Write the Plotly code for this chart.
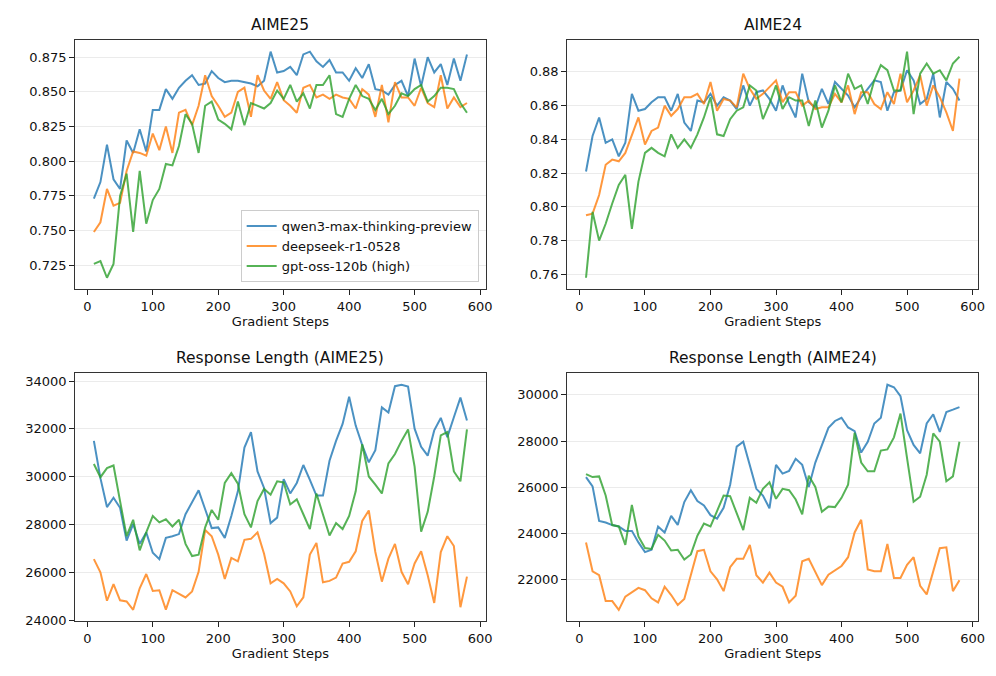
import plotly.graph_objects as go
from plotly.subplots import make_subplots

steps = [10, 20, 30, 40, 50, 60, 70, 80, 90, 100, 110, 120, 130, 140, 150, 160, 170, 180, 190, 200,
         210, 220, 230, 240, 250, 260, 270, 280, 290, 300, 310, 320, 330, 340, 350, 360, 370, 380, 390, 400,
         410, 420, 430, 440, 450, 460, 470, 480, 490, 500, 510, 520, 530, 540, 550, 560, 570, 580]

series_names = ["qwen3-max-thinking-preview", "deepseek-r1-0528", "gpt-oss-120b (high)"]
colors = ["#1f77b4", "#ff7f0e", "#2ca02c"]

aime25_qwen = [0.773, 0.785, 0.812, 0.787, 0.780, 0.815, 0.806, 0.823, 0.807, 0.837,
               0.837, 0.852, 0.845, 0.853, 0.858, 0.862, 0.855, 0.856, 0.865, 0.860,
               0.857, 0.858, 0.858, 0.857, 0.856, 0.854, 0.858, 0.879,
               0.864, 0.865, 0.868, 0.862, 0.877, 0.879, 0.872, 0.868, 0.873, 0.864,
               0.864, 0.858, 0.867, 0.860, 0.870, 0.852, 0.851, 0.848, 0.855, 0.858,
               0.847, 0.874, 0.854, 0.875, 0.864, 0.870, 0.855, 0.874, 0.858, 0.877]
aime25_deepseek = [0.749, 0.756, 0.780, 0.768, 0.770, 0.793, 0.807, 0.806, 0.804, 0.820,
                   0.808, 0.825, 0.806, 0.835, 0.837, 0.826, 0.840, 0.862, 0.847, 0.840,
                   0.832, 0.835, 0.850, 0.853, 0.832, 0.862, 0.851, 0.845,
                   0.857, 0.844, 0.840, 0.835, 0.853, 0.855, 0.846, 0.848, 0.845, 0.848,
                   0.846, 0.845, 0.838, 0.852, 0.848, 0.832, 0.855, 0.828, 0.857, 0.846,
                   0.846, 0.840, 0.853, 0.842, 0.839, 0.862, 0.838, 0.846, 0.839, 0.842]
aime25_gptoss = [0.726, 0.728, 0.716, 0.726, 0.775, 0.791, 0.749, 0.793, 0.755, 0.772,
                 0.780, 0.798, 0.797, 0.811, 0.834, 0.827, 0.806, 0.840, 0.843, 0.830,
                 0.827, 0.823, 0.843, 0.826, 0.842, 0.840, 0.838, 0.842,
                 0.851, 0.845, 0.855, 0.843, 0.849, 0.838, 0.855, 0.855, 0.862, 0.834,
                 0.832, 0.845, 0.855, 0.847, 0.845, 0.837, 0.845, 0.834, 0.840, 0.849,
                 0.847, 0.852, 0.855, 0.843, 0.847, 0.853, 0.853, 0.852, 0.842, 0.835]

aime24_qwen = [0.821, 0.842, 0.853, 0.838, 0.840, 0.830, 0.838, 0.867, 0.857, 0.858,
               0.862, 0.865, 0.865, 0.857, 0.867, 0.850, 0.845, 0.863, 0.862, 0.867,
               0.860, 0.865, 0.863, 0.858, 0.872, 0.860, 0.868, 0.869,
               0.864, 0.857, 0.872, 0.861, 0.853, 0.879, 0.862, 0.859, 0.870, 0.861,
               0.874, 0.870, 0.866, 0.859, 0.865, 0.870, 0.875, 0.874, 0.857, 0.868,
               0.869, 0.881, 0.875, 0.861, 0.864, 0.879, 0.853, 0.874, 0.870, 0.863]
aime24_deepseek = [0.795, 0.796, 0.807, 0.825, 0.828, 0.827, 0.832, 0.843, 0.853, 0.837,
                   0.845, 0.847, 0.860, 0.854, 0.858, 0.865, 0.865, 0.867, 0.861, 0.874,
                   0.857, 0.864, 0.863, 0.859, 0.879, 0.870, 0.864, 0.867,
                   0.871, 0.875, 0.862, 0.868, 0.868, 0.860, 0.863, 0.858, 0.859, 0.859,
                   0.867, 0.862, 0.872, 0.855, 0.868, 0.868, 0.861, 0.858, 0.868, 0.861,
                   0.879, 0.862, 0.869, 0.878, 0.860, 0.872, 0.865, 0.856, 0.845, 0.876]
aime24_gptoss = [0.758, 0.797, 0.780, 0.790, 0.802, 0.813, 0.819, 0.787, 0.815, 0.832,
                 0.835, 0.832, 0.830, 0.843, 0.835, 0.840, 0.835, 0.843, 0.853, 0.865,
                 0.843, 0.842, 0.852, 0.857, 0.859, 0.872, 0.869, 0.852,
                 0.861, 0.872, 0.858, 0.865, 0.863, 0.863, 0.848, 0.863, 0.847, 0.857,
                 0.872, 0.862, 0.879, 0.870, 0.872, 0.861, 0.875, 0.884, 0.881, 0.869,
                 0.869, 0.892, 0.855, 0.879, 0.885, 0.879, 0.881, 0.875, 0.885, 0.889]

len25_qwen = [31500, 29940, 28730, 29120, 28700, 27330, 28020, 27190, 27670, 26820,
              26550, 27440, 27510, 27600, 28430, 28940, 29430, 28640, 27850, 27880,
              27440, 28360, 29390, 31220, 31870, 30220, 29530, 28060,
              28290, 29900, 29300, 29740, 30490, 29870, 29210, 29210, 30670, 31500,
              32210, 33350, 32140, 31320, 30600, 31110, 32900, 32690, 33790, 33850,
              33770, 32010, 31250, 30880, 31940, 32460, 31660, 32490, 33310, 32350]
len25_deepseek = [26550, 26000, 24810, 25510, 24830, 24780, 24430, 25330, 25930, 25220,
                  25250, 24440, 25250, 25100, 24950, 25200, 26020, 27770, 27510, 26740,
                  25720, 26600, 26460, 27360, 27400, 27670, 26780, 25540,
                  25720, 25540, 25200, 24580, 24950, 26740, 27230, 25580, 25640, 25780,
                  26370, 26440, 26880, 28150, 28590, 26850, 25610, 26570, 27190, 26020,
                  25500, 26370, 26880, 25880, 24720, 26850, 27510, 27100, 24540, 25820]
len25_gptoss = [30530, 29980, 30360, 30470, 28980, 27510, 28200, 26920, 27670, 28360,
                28090, 28220, 27920, 28200, 27190, 26680, 26740, 27880, 28610, 28200,
                29740, 30150, 29710, 28430, 27880, 28980, 29490, 29250,
                29810, 29760, 28840, 29050, 28430, 27810, 29300, 28430, 27540, 28060,
                27810, 28360, 29390, 31360, 30010, 29670, 29300, 30560, 30950, 31500,
                31980, 30420, 27700, 28530, 30010, 31730, 31870, 30220, 29810, 31980]

len24_qwen = [26440, 26040, 24540, 24470, 24360, 24300, 24110, 24110, 23610, 23190,
              23290, 24300, 24040, 24760, 24370, 25360, 25870, 25400, 25210, 24790,
              24640, 25110, 26110, 27760, 27970, 26900, 25930, 25640,
              25090, 26970, 26590, 26710, 27230, 26970, 26010, 27070, 27830, 28570,
              28870, 29010, 28590, 28430, 27500, 27970, 28760, 29010, 30440, 30330,
              29940, 28470, 27830, 27470, 28760, 29160, 28400, 29260, 29360, 29470]
len24_deepseek = [23610, 22360, 22190, 21070, 21070, 20690, 21260, 21470, 21640, 21540,
                  21190, 21010, 21690, 21330, 20900, 21160, 22160, 23230, 23290, 22360,
                  22010, 21500, 22540, 22900, 22900, 23500, 22190, 21870,
                  22300, 21870, 21690, 21010, 21300, 22790, 22900, 22300, 21760, 22210,
                  22400, 22590, 22970, 24040, 24590, 22440, 22360, 22360, 23540, 22070,
                  22070, 22640, 22970, 21730, 21360, 22360, 23360, 23400, 21500, 21970]
len24_gptoss = [26570, 26440, 26470, 25640, 24360, 24300, 23500, 25230, 23870, 23370,
                23330, 23940, 23690, 23260, 23290, 22870, 23090, 23900, 24430, 24300,
                24970, 25640, 25610, 24900, 24140, 25540, 25330, 25930,
                26210, 25500, 25930, 25870, 25470, 24830, 26500, 26010, 24940, 25160,
                25140, 25540, 26110, 28360, 27070, 26690, 26690, 27590, 27640, 28160,
                29190, 27260, 25370, 25590, 26540, 28330, 27970, 26260, 26470, 27970]

panel_titles = ["AIME25", "AIME24", "Response Length (AIME25)", "Response Length (AIME24)"]
panel_data = [
    [aime25_qwen, aime25_deepseek, aime25_gptoss],
    [aime24_qwen, aime24_deepseek, aime24_gptoss],
    [len25_qwen, len25_deepseek, len25_gptoss],
    [len24_qwen, len24_deepseek, len24_gptoss],
]
y_ticks = [
    [0.725, 0.750, 0.775, 0.800, 0.825, 0.850, 0.875],
    [0.76, 0.78, 0.80, 0.82, 0.84, 0.86, 0.88],
    [24000, 26000, 28000, 30000, 32000, 34000],
    [22000, 24000, 26000, 28000, 30000],
]
y_formats = [".3f", ".2f", "d", "d"]
x_ticks = [0, 100, 200, 300, 400, 500, 600]

W, H = 996, 676
x_domains = [[67.7 / W, 481 / W], [563.3 / W, 977 / W]]
y_domains = [[1 - 284 / H, 1 - 32.7 / H], [1 - 619.5 / H, 1 - 369.3 / H]]

FONT = "DejaVu Sans"
fig = make_subplots(rows=2, cols=2)

for p in range(4):
    r, c = p // 2 + 1, p % 2 + 1
    for s in range(3):
        fig.add_trace(go.Scatter(
            x=steps, y=panel_data[p][s], mode="lines",
            name=series_names[s],
            line=dict(color=colors[s], width=2),
            opacity=0.8,
            showlegend=(p == 0),
        ), row=r, col=c)

annotations = []
for p in range(4):
    r, c = p // 2, p % 2
    idx = "" if p == 0 else str(p + 1)
    allv = [v for ser in panel_data[p] for v in ser]
    lo, hi = min(allv), max(allv)
    pad = (hi - lo) * 0.05
    xspan = steps[-1] - steps[0]
    fig.layout["xaxis" + idx].update(
        domain=x_domains[c], range=[steps[0] - 0.05 * xspan, steps[-1] + 0.05 * xspan],
        tickvals=x_ticks, ticks="outside", ticklen=5, tickwidth=1, tickcolor="#222",
        showline=True, mirror=True, linecolor="#333", linewidth=1.2,
        showgrid=False, zeroline=False,
        tickfont=dict(family=FONT, size=13, color="#111"),
        title=dict(text="Gradient Steps", font=dict(family=FONT, size=13, color="#111"), standoff=4),
    )
    fig.layout["yaxis" + idx].update(
        domain=y_domains[r], range=[lo - pad, hi + pad],
        tickvals=y_ticks[p], tickformat=y_formats[p],
        ticks="outside", ticklen=5, tickwidth=1, tickcolor="#222",
        showline=True, mirror=True, linecolor="#333", linewidth=1.2,
        showgrid=True, gridcolor="#ebebeb", gridwidth=1, zeroline=False,
        tickfont=dict(family=FONT, size=13, color="#111"),
    )
    annotations.append(dict(
        text=panel_titles[p], xref="paper", yref="paper",
        x=sum(x_domains[c]) / 2, y=y_domains[r][1], xanchor="center", yanchor="bottom",
        yshift=4, showarrow=False, font=dict(family=FONT, size=15.5, color="#111"),
    ))

fig.update_layout(
    width=W, height=H,
    margin=dict(l=0, r=0, t=0, b=0),
    paper_bgcolor="white", plot_bgcolor="white",
    annotations=annotations,
    font=dict(family=FONT, size=13, color="#111"),
    legend=dict(
        x=474 / W, y=1 - 277 / H, xanchor="right", yanchor="bottom",
        bgcolor="rgba(255,255,255,0.85)", bordercolor="#cccccc", borderwidth=1,
        font=dict(family=FONT, size=13, color="#111"),
        tracegroupgap=0, itemwidth=30,
    ),
)

fig.write_html("out.html")
